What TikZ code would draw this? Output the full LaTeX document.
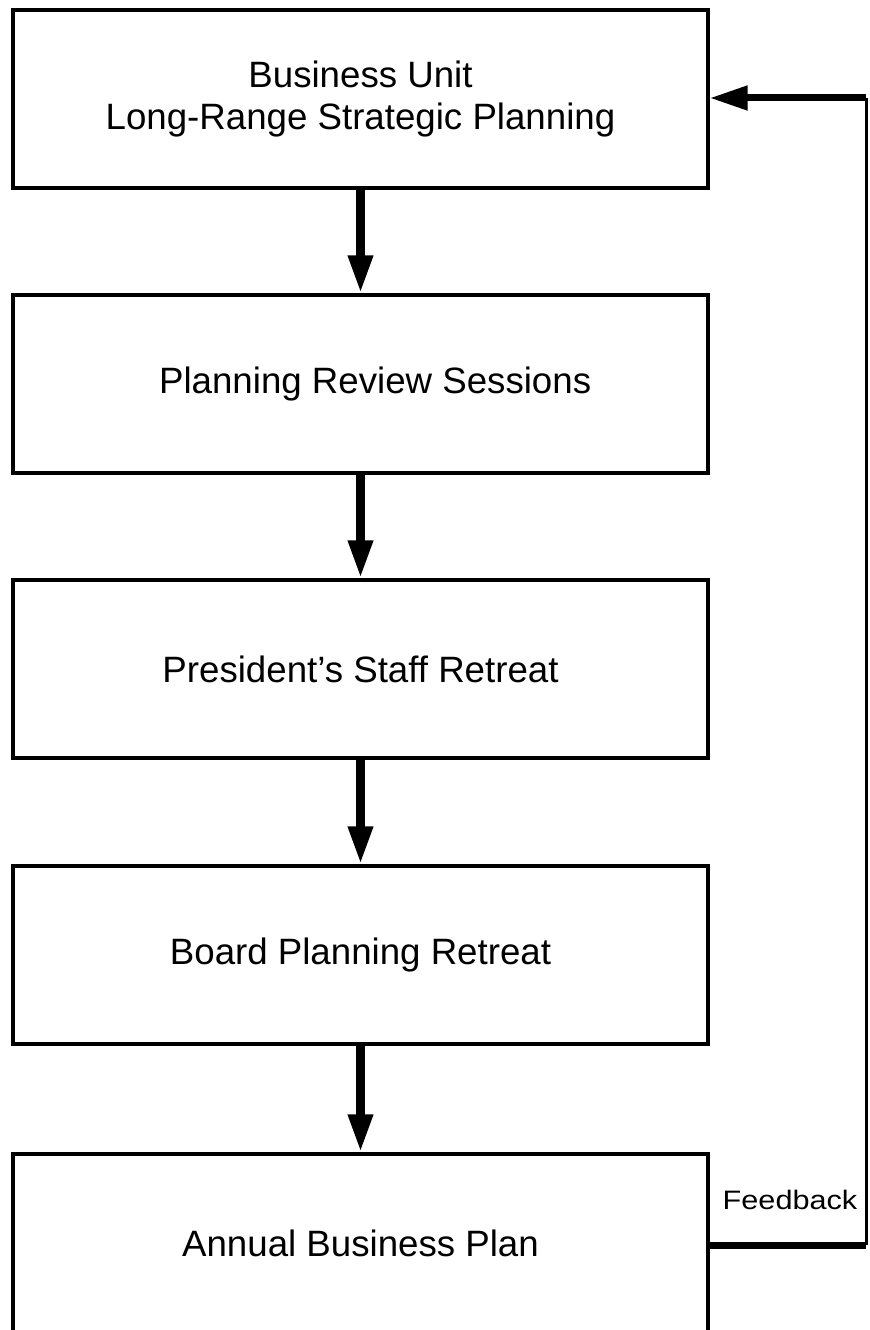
\documentclass[tikz,border=0pt]{standalone}
\usepackage{fontspec}
\setmainfont{Liberation Sans}
\usetikzlibrary{arrows.meta}

\begin{document}
\begin{tikzpicture}[x=0.75pt, y=-0.75pt,
  stage/.style={draw, line width=2.6pt, minimum width=521.25pt, minimum height=133.5pt,
    align=center, font=\fontsize{27.5}{31.5}\selectfont},
  flow/.style={line width=6.5pt, -{Triangle[width=17.5pt,length=28.5pt]}},
  fbthick/.style={line width=5.25pt},
  fbthin/.style={line width=2.25pt}]
\useasboundingbox (0,0) rectangle (869,1330);
% Stages
\node[stage] (unit) at (360.5,99) {Business Unit\\Long-Range Strategic Planning};
\node[stage] (review) at (360.5,384) {\hspace*{22pt}Planning Review Sessions};
\node[stage] (staff) at (360.5,669) {President's Staff Retreat};
\node[stage] (board) at (360.5,955) {Board Planning Retreat};
\node[stage] (plan) at (360.5,1243) {Annual Business Plan};

% Flow
\draw[flow] (unit) -- (review);
\draw[flow] (review) -- (staff);
\draw[flow] (staff) -- (board);
\draw[flow] (board) -- (plan);

% Feedback loop
\coordinate (fbbot) at (866,1245);
\coordinate (fbtop) at (866,98);
\draw[fbthick] (plan.east |- fbbot) -- (fbbot);
\draw[fbthin] (fbbot) -- (fbtop);
\draw[fbthick, -{Triangle[width=17.5pt,length=28.5pt]}] (fbtop) -- (unit.east |- fbtop);
\node[anchor=base, font=\fontsize{20}{24}\selectfont] (fb) at (790,1209) {\scalebox{1.15}[1]{Feedback}};
\end{tikzpicture}
\end{document}
